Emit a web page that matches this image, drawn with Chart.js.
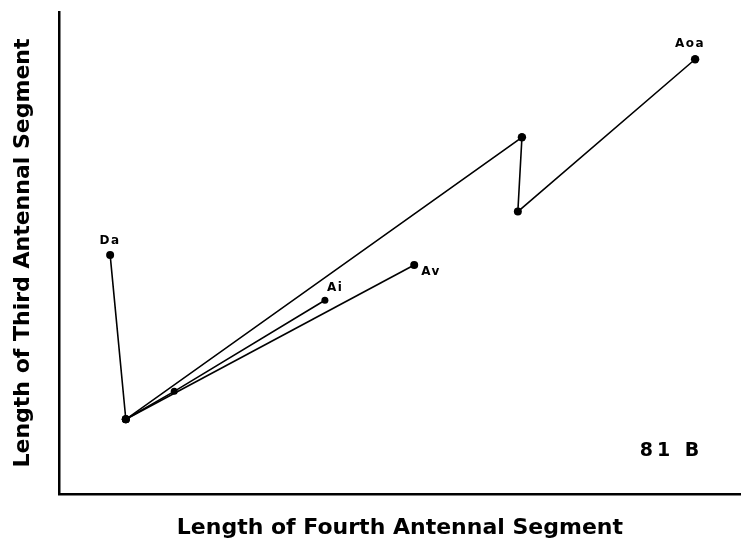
<!DOCTYPE html>
<html>
<head>
<meta charset="utf-8">
<script src="https://cdn.jsdelivr.net/npm/chart.js@4/dist/chart.umd.min.js"></script>
<style>
html,body{margin:0;padding:0;background:#fff;}
#wrap{width:745px;height:546px;position:relative;}
</style>
</head>
<body>
<div id="wrap"><canvas id="c" width="745" height="546"></canvas></div>
<script>
// Main path: Da -> base -> upper bend -> lower bend -> Aoa
const mainX = [7.5, 9.8, 67.9, 67.3, 93.3];
const mainY = [49.6, 15.5, 74.0, 58.6, 90.2];
// Branch from base through intermediate point to Ai
const aiX = [9.8, 16.9, 39.0];
const aiY = [15.5, 21.3, 40.2];
// Branch from base to Av
const avX = [9.8, 52.1];
const avY = [15.5, 47.5];
// Point labels
const labelNames = ['Da', 'Ai', 'Av', 'Aoa'];
const labelX = [7.5, 39.0, 52.1, 93.3];
const labelY = [49.6, 40.2, 47.5, 90.2];
const panelLabel = '81 B';
const xTitle = 'Length of Fourth Antennal Segment';
const yTitle = 'Length of Third Antennal Segment';

const toPts = (xs, ys) => xs.map((x, i) => ({x: x, y: ys[i]}));

const labelOffsets = {
  'Da': [0, -14, 'center'],
  'Ai': [2, -12, 'left'],
  'Av': [7, 7, 'left'],
  'Aoa': [-5, -15, 'center']
};

const annot = {
  id: 'annot',
  afterDatasetsDraw(chart) {
    const {ctx, scales: {x, y}, chartArea} = chart;
    ctx.save();
    ctx.fillStyle = '#000';
    ctx.textBaseline = 'middle';
    ctx.font = 'bold 12px "DejaVu Sans"';
    ctx.letterSpacing = '1.5px';
    labelNames.forEach((n, i) => {
      const o = labelOffsets[n];
      ctx.textAlign = o[2];
      ctx.fillText(n, x.getPixelForValue(labelX[i]) + o[0], y.getPixelForValue(labelY[i]) + o[1]);
    });
    ctx.font = 'bold 19px "DejaVu Sans"';
    ctx.letterSpacing = '4px';
    ctx.textAlign = 'left';
    ctx.fillText(panelLabel, chartArea.right - 101, chartArea.bottom - 43);
    ctx.restore();
  }
};

const ds = (xs, ys, radii) => ({
  data: toPts(xs, ys),
  showLine: true,
  borderColor: '#000',
  backgroundColor: '#000',
  borderWidth: 1.6,
  pointRadius: radii,
  pointBackgroundColor: '#000',
  pointBorderWidth: 0,
  tension: 0
});

new Chart(document.getElementById('c'), {
  type: 'scatter',
  data: {
    datasets: [
      ds(mainX, mainY, [4, 4, 4.2, 4, 4.2]),
      ds(aiX, aiY, [4, 3.5, 3.5]),
      ds(avX, avY, [4, 4])
    ]
  },
  options: {
    responsive: false,
    animation: false,
    events: [],
    layout: {padding: {top: 12, right: 4, left: 0, bottom: 0}},
    plugins: {legend: {display: false}, tooltip: {enabled: false}},
    scales: {
      x: {
        type: 'linear', min: 0, max: 100,
        grid: {display: false, drawTicks: false},
        border: {display: true, color: '#000', width: 2.5},
        ticks: {display: false},
        title: {display: true, text: xTitle, color: '#000',
          font: {family: '"DejaVu Sans"', size: 22, weight: 'bold'},
          padding: {top: 0, bottom: 4.5}},
        afterFit(s) { s.height = 52; }
      },
      y: {
        type: 'linear', min: 0, max: 100,
        grid: {display: false, drawTicks: false},
        border: {display: true, color: '#000', width: 2.5},
        ticks: {display: false},
        title: {display: true, text: yTitle, color: '#000',
          font: {family: '"DejaVu Sans"', size: 22, weight: 'bold'},
          padding: {top: 10.5, bottom: 0}},
        afterFit(s) { s.width = 59; }
      }
    }
  },
  plugins: [annot]
});
</script>
</body>
</html>
